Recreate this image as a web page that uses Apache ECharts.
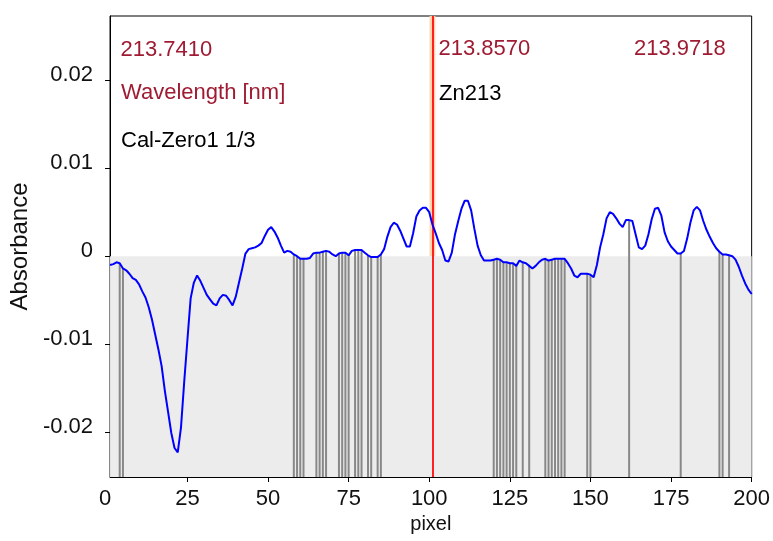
<!DOCTYPE html>
<html>
<head>
<meta charset="utf-8">
<script src="https://cdn.jsdelivr.net/npm/echarts@6/dist/echarts.min.js"></script>
<style>
  html, body { margin: 0; padding: 0; background: #ffffff; }
  #chart { width: 773px; height: 541px; }
</style>
</head>
<body>
<div id="chart"></div>
<script>
// Absorbance of the Zn 213.857 nm window, one value per detector pixel (1..200)
const absorbance = [
  -0.0010, -0.0009, -0.0007, -0.0008, -0.0014, -0.0016, -0.0020, -0.0025, -0.0027, -0.0032,
  -0.0040, -0.0047, -0.0058, -0.0072, -0.0089, -0.0106, -0.0125, -0.0153, -0.0177, -0.0201,
  -0.0218, -0.0223, -0.0195, -0.0143, -0.0095, -0.0048, -0.0030, -0.0022, -0.0028, -0.0036,
  -0.0044, -0.0049, -0.0054, -0.0056, -0.0048, -0.0044, -0.0045, -0.0050, -0.0056, -0.0046,
  -0.0030, -0.0014,  0.0003,  0.0008,  0.0009,  0.0010,  0.0012,  0.0015,  0.0023,  0.0030,
   0.0033,  0.0028,  0.0021,  0.0012,  0.0004,  0.0006,  0.0005,  0.0002,  0.0000, -0.0003,
  -0.0003, -0.0003, -0.0002,  0.0003,  0.0004,  0.0004,  0.0005,  0.0006,  0.0005,  0.0002,
   0.0000,  0.0003,  0.0004,  0.0004,  0.0001,  0.0006,  0.0007,  0.0007,  0.0007,  0.0004,
   0.0001, -0.0001, -0.0001, -0.0001,  0.0002,  0.0008,  0.0022,  0.0033,  0.0038,  0.0036,
   0.0029,  0.0020,  0.0011,  0.0011,  0.0026,  0.0045,  0.0052,  0.0055,  0.0055,  0.0050,
   0.0036,  0.0026,  0.0015,  0.0007, -0.0005, -0.0006,  0.0004,  0.0025,  0.0040,  0.0054,
   0.0063,  0.0063,  0.0052,  0.0031,  0.0012,  0.0001, -0.0005, -0.0005, -0.0005, -0.0004,
  -0.0003, -0.0004, -0.0007, -0.0007, -0.0008, -0.0008, -0.0011, -0.0005, -0.0007, -0.0008,
  -0.0011, -0.0014, -0.0011, -0.0007, -0.0004, -0.0003, -0.0005, -0.0004, -0.0003, -0.0003,
  -0.0003, -0.0003, -0.0008, -0.0014, -0.0022, -0.0024, -0.0020, -0.0020, -0.0020, -0.0021,
  -0.0024, -0.0010,  0.0010,  0.0025,  0.0043,  0.0050,  0.0048,  0.0043,  0.0037,  0.0033,
   0.0041,  0.0041,  0.0040,  0.0025,  0.0010,  0.0008,  0.0012,  0.0025,  0.0042,  0.0054,
   0.0055,  0.0046,  0.0027,  0.0017,  0.0011,  0.0007,  0.0003,  0.0003,  0.0006,  0.0020,
   0.0038,  0.0052,  0.0056,  0.0052,  0.0040,  0.0030,  0.0022,  0.0015,  0.0009,  0.0005,
   0.0002,  0.0002,  0.0001,  0.0000, -0.0004, -0.0012, -0.0022, -0.0031, -0.0038, -0.0043
];

// Pixels used for the baseline correction
const baselinePixels = [
  4, 5,
  58, 59, 60, 61, 65, 66, 67, 68, 72, 73, 74, 75, 77, 78, 79, 81, 82, 84, 85,
  120, 121, 122, 123, 124, 125, 126, 127, 129, 131,
  136, 137, 138, 139, 140, 141, 142, 149, 150, 162, 178, 190, 191, 193
];

// Peak centre pixel and the integration window around it
const peakPixel = 101;
const peakWindow = [100.1, 101.9];

// Axis ranges and tick labels
const xRange = [1, 200];
const yRange = [-0.0251, 0.0273];
const xTicks = [25, 50, 75, 100, 125, 150, 175, 200];
const xLabels = [1, 25, 50, 75, 100, 125, 150, 175, 200];
const yTicks = [-0.02, -0.01, 0, 0.01, 0.02];

// Wavelength annotations and line titles
const wavelengthLabels = ['213.7410', '213.8570', '213.9718'];
const wavelengthTitle = 'Wavelength [nm]';
const elementLine = 'Zn213';
const measurementName = 'Cal-Zero1 1/3';

const spectrum = absorbance.map((v, i) => [i + 1, v]);
const baselineMarks = baselinePixels.map(p => [p, absorbance[p - 1]]);

const FONT = '"Liberation Sans", Arial, sans-serif';
const chart = echarts.init(document.getElementById('chart'), null, { renderer: 'canvas' });

chart.setOption({
  animation: false,
  backgroundColor: '#ffffff',
  grid: {
    left: 110, top: 16, right: 20, bottom: 64,
    show: true, borderColor: '#000', borderWidth: 1, backgroundColor: 'transparent'
  },
  xAxis: {
    type: 'value',
    min: xRange[0], max: xRange[1],
    name: 'pixel', nameLocation: 'middle', nameGap: 37,
    nameTextStyle: { fontFamily: FONT, fontSize: 20, color: '#111' },
    axisLine: { show: true, onZero: false, lineStyle: { color: '#000', width: 1 } },
    axisTick: { show: true, length: 5, customValues: xTicks, lineStyle: { color: '#000' } },
    axisLabel: {
      customValues: xLabels, margin: 11,
      fontFamily: FONT, fontSize: 22, color: '#111',
      formatter: v => v === xRange[0] ? '{z|0}' : String(v),
      rich: { z: { fontFamily: FONT, fontSize: 22, color: '#111', padding: [0, 10, 0, 0] } }
    },
    splitLine: { show: false }
  },
  yAxis: {
    type: 'value',
    min: yRange[0], max: yRange[1],
    name: 'Absorbance', nameLocation: 'middle', nameGap: 76, nameRotate: 90,
    nameTextStyle: { fontFamily: FONT, fontSize: 24, color: '#111' },
    axisLine: { show: true, onZero: false, lineStyle: { color: '#000', width: 1 } },
    axisTick: { show: true, length: 5, customValues: yTicks, lineStyle: { color: '#000' } },
    axisLabel: {
      customValues: yTicks, margin: 17,
      fontFamily: FONT, fontSize: 22, color: '#111',
      verticalAlign: 'bottom', lineHeight: 10,
      formatter: v => String(v)
    },
    splitLine: { show: false }
  },
  series: [
    {
      // shaded region below zero absorbance, peak window and peak centre
      type: 'line',
      data: [],
      silent: true,
      markArea: {
        silent: true,
        data: [
          [
            { xAxis: xRange[0], yAxis: yRange[0], itemStyle: { color: '#ececec' } },
            { xAxis: xRange[1], yAxis: 0 }
          ],
          [
            { xAxis: peakWindow[0], yAxis: 0, itemStyle: { color: '#ffd6ae' } },
            { xAxis: peakWindow[1], yAxis: yRange[1] }
          ]
        ]
      },
      markLine: {
        silent: true,
        symbol: 'none',
        label: { show: false },
        lineStyle: { color: '#ff2020', width: 2, type: 'solid' },
        data: [{ xAxis: peakPixel }]
      }
    },
    {
      // baseline pixels: drop lines from the axis floor up to the spectrum
      type: 'custom',
      data: baselineMarks,
      silent: true,
      renderItem: (params, api) => {
        const x = api.value(0);
        const top = api.coord([x, api.value(1)]);
        const bottom = api.coord([x, yRange[0]]);
        return {
          type: 'line',
          shape: { x1: top[0], y1: top[1], x2: bottom[0], y2: bottom[1] },
          style: { stroke: '#888888', lineWidth: 2 }
        };
      }
    },
    {
      type: 'line',
      data: spectrum,
      showSymbol: false,
      silent: true,
      lineStyle: { color: '#0000ff', width: 2 },
      z: 5
    }
  ],
  graphic: [
    { type: 'text', x: 120.5, y: 50, z: 10, style: { text: wavelengthLabels[0], font: '22px ' + FONT, fill: '#9e1b32', verticalAlign: 'middle' } },
    { type: 'text', x: 121, y: 93, z: 10, style: { text: wavelengthTitle, font: '22px ' + FONT, fill: '#9e1b32', verticalAlign: 'middle' } },
    { type: 'text', x: 121, y: 141, z: 10, style: { text: measurementName, font: '22px ' + FONT, fill: '#000', verticalAlign: 'middle' } },
    { type: 'text', x: 438.5, y: 49, z: 10, style: { text: wavelengthLabels[1], font: '22px ' + FONT, fill: '#9e1b32', verticalAlign: 'middle' } },
    { type: 'text', x: 439, y: 94, z: 10, style: { text: elementLine, font: '22px ' + FONT, fill: '#000', verticalAlign: 'middle' } },
    { type: 'text', x: 634, y: 49, z: 10, style: { text: wavelengthLabels[2], font: '22px ' + FONT, fill: '#9e1b32', verticalAlign: 'middle' } }
  ]
});
</script>
</body>
</html>
